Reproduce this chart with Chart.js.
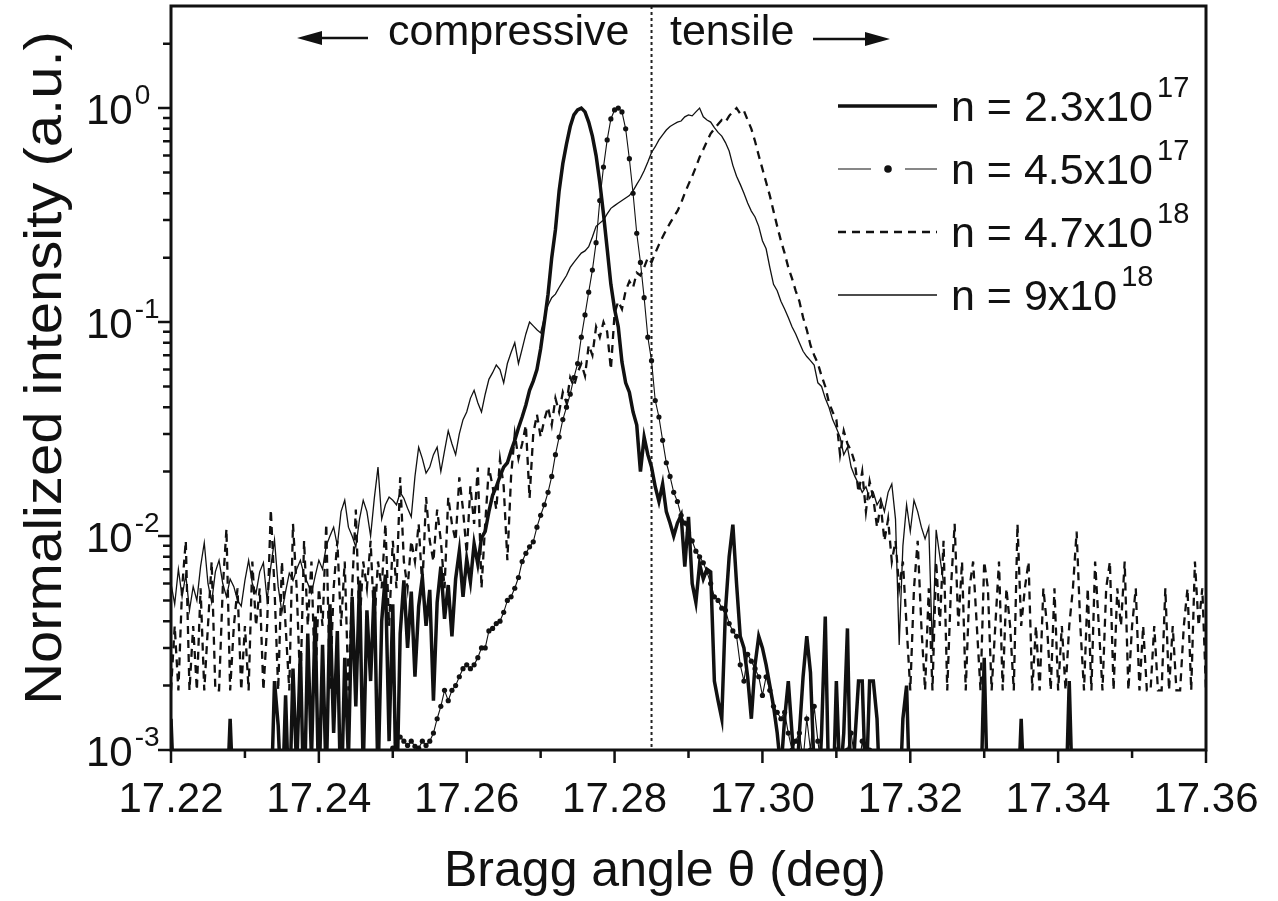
<!DOCTYPE html>
<html><head><meta charset="utf-8">
<script src="https://cdn.jsdelivr.net/npm/chart.js@4.4.1/dist/chart.umd.min.js"></script>
<style>html,body{margin:0;padding:0;background:#fff;}canvas{display:block;}</style>
</head><body>
<canvas id="c" width="1278" height="901"></canvas>
<script>
// scan grid (uniform step of the rocking curve)
const thetaStart = 17.22;
const thetaStep = 0.0005;

// n = 2.3x10^17 (thick solid), starts at grid index 0
const startA = 0;
const seriesA = [
0.0014,0.0005,0.0005,0.0005,0.0005,0.0005,0.0005,0.0005,0.0005,0.0005,
0.0005,0.0005,0.0005,0.0005,0.0005,0.0005,0.0014,0.0005,0.0005,0.0005,
0.0005,0.0005,0.0005,0.0005,0.0005,0.0005,0.0005,0.0005,0.0021,0.0013,
0.0005,0.0018,0.0005,0.0024,0.0008,0.0029,0.0005,0.0035,0.0009,0.0042,
0.0006,0.0031,0.0007,0.0048,0.0012,0.0036,0.0005,0.0027,0.0009,0.0052,
0.0016,0.0062,0.0008,0.0045,0.0021,0.0058,0.0007,0.0040,0.0066,0.0011,
0.0048,0.0005,0.0035,0.0062,0.0030,0.0055,0.0022,0.0047,0.0064,0.0038,
0.0056,0.0017,0.0049,0.0072,0.0041,0.0059,0.0034,0.0063,0.0085,0.0052,
0.0078,0.0061,0.0092,0.0074,0.0098,0.0105,0.013,0.0155,0.017,0.019,
0.021,0.022,0.025,0.028,0.032,0.036,0.041,0.048,0.053,0.060,
0.075,0.10,0.135,0.20,0.27,0.41,0.55,0.68,0.82,0.93,
0.98,1.0,0.96,0.86,0.74,0.60,0.45,0.32,0.22,0.15,
0.115,0.095,0.065,0.052,0.047,0.038,0.033,0.020,0.029,0.024,
0.021,0.017,0.0145,0.0175,0.013,0.0115,0.010,0.0115,0.0125,0.0072,
0.0123,0.0060,0.0049,0.0074,0.0063,0.0070,0.0068,0.0021,0.0017,0.0014,
0.0045,0.0080,0.0113,0.0060,0.0034,0.0030,0.0022,0.0014,0.0025,0.0034,
0.0030,0.0025,0.0020,0.0016,0.0012,0.0008,0.0014,0.0021,0.0012,0.0006,
0.0012,0.0022,0.0034,0.0023,0.0008,0.0005,0.0012,0.0042,0.0006,0.0005,
0.0021,0.0007,0.0012,0.0037,0.0005,0.0011,0.0021,0.0021,0.0006,0.0021,
0.0021,0.0014,0.0005,0.0005,0.0005,0.0005,0.0005,0.0005,0.0014,0.0020,
0.0005,0.0005,0.0005,0.0005,0.0005,0.0005,0.0005,0.0005,0.0005,0.0005,
0.0005,0.0005,0.0005,0.0005,0.0005,0.0005,0.0005,0.0005,0.0005,0.0005,
0.0027,0.0005,0.0005,0.0005,0.0005,0.0005,0.0005,0.0005,0.0005,0.0005,
0.0014,0.0005,0.0005,0.0005,0.0005,0.0005,0.0005,0.0005,0.0005,0.0005,
0.0005,0.0005,0.0005,0.0021,0.0005
];

// n = 4.5x10^17 (thin line with dots), starts at grid index 58
const startB = 58;
const seriesB = [
0.0008,0.0009,0.00102,0.00108,0.00115,0.0011,0.00105,0.0011,0.00104,0.00102,
0.0011,0.00105,0.0011,0.0012,0.0014,0.0016,0.0019,0.0017,0.0019,0.0020,
0.0022,0.0024,0.0025,0.0024,0.0025,0.0027,0.0030,0.0030,0.0036,0.0037,
0.0039,0.0040,0.0044,0.0050,0.0052,0.0057,0.0064,0.0076,0.0083,0.0089,
0.0094,0.011,0.0125,0.014,0.016,0.019,0.024,0.029,0.035,0.040,
0.046,0.055,0.064,0.085,0.108,0.138,0.175,0.235,0.37,0.53,
0.71,0.89,0.98,1.0,0.96,0.80,0.58,0.40,0.26,0.19,
0.13,0.085,0.066,0.043,0.036,0.028,0.022,0.019,0.016,0.0145,
0.0125,0.0115,0.0104,0.0095,0.0085,0.0080,0.0075,0.0068,0.0060,0.0052,
0.0050,0.0046,0.0045,0.0039,0.0036,0.0034,0.0025,0.0021,0.0028,0.0026,
0.0024,0.0022,0.0018,0.0022,0.0019,0.0016,0.0015,0.0014,0.0015,0.0012,
0.0010,0.0011,0.0012,0.0009,0.0014,0.0010,0.0016,0.0011,0.0008,0.0007,
0.0009,0.0008,0.0010,0.0006,0.0009,0.0010,0.0012,0.0009,0.0008,0.0011,
0.0009,0.0010,0.0006
];

// n = 4.7x10^18 (dashed), starts at grid index 0
const startC = 0;
const seriesC = [
0.0019,0.0038,0.0019,0.0057,0.0095,0.0019,0.0038,0.0019,0.0057,0.0019,
0.0038,0.0076,0.0019,0.0019,0.0057,0.0108,0.0019,0.0038,0.0057,0.0019,
0.0038,0.0019,0.0076,0.0038,0.0057,0.0019,0.0038,0.0133,0.0057,0.0019,
0.0076,0.0038,0.0019,0.0114,0.0057,0.0019,0.0095,0.0038,0.0076,0.0019,
0.0057,0.0038,0.0114,0.0019,0.0057,0.0095,0.0038,0.0076,0.0019,0.0057,
0.0133,0.0038,0.0076,0.0057,0.0095,0.0038,0.0076,0.0057,0.0114,0.0038,
0.0095,0.0057,0.0188,0.0076,0.0057,0.0095,0.0076,0.0114,0.0057,0.0152,
0.0095,0.0076,0.0133,0.0095,0.0057,0.0152,0.0114,0.0095,0.0188,0.0133,
0.0083,0.0171,0.0114,0.0209,0.0057,0.0114,0.0209,0.0171,0.0133,0.0228,
0.0171,0.0077,0.0190,0.0300,0.0230,0.0270,0.0330,0.0150,0.0300,0.0370,
0.0290,0.0350,0.0400,0.0330,0.0440,0.0380,0.0470,0.0420,0.0550,0.0500,
0.0580,0.0640,0.0560,0.0780,0.0700,0.0950,0.0850,0.1000,0.0900,0.0600,
0.1100,0.1250,0.1150,0.1400,0.1550,0.1450,0.1700,0.1650,0.1800,0.2000,
0.1900,0.2100,0.2300,0.2500,0.2700,0.2900,0.3100,0.3300,0.3600,0.4000,
0.4400,0.4800,0.5300,0.5900,0.6400,0.7000,0.7600,0.8000,0.8400,0.8800,
0.8600,0.9200,0.9600,1.0000,0.9400,0.9700,0.8800,0.8000,0.7000,0.6000,
0.5200,0.4500,0.3900,0.3300,0.2800,0.2400,0.2100,0.1800,0.1600,0.1400,
0.1250,0.1050,0.0920,0.0780,0.0700,0.0640,0.0560,0.0500,0.0420,0.0380,
0.0350,0.0240,0.0310,0.0270,0.0250,0.0220,0.0160,0.0200,0.0130,0.0180,
0.0150,0.0110,0.0140,0.0095,0.0120,0.0076,0.0095,0.0057,0.0076,0.0038,
0.0019,0.0057,0.0095,0.0038,0.0019,0.0057,0.0019,0.0076,0.0038,0.0095,
0.0019,0.0057,0.0114,0.0038,0.0076,0.0019,0.0057,0.0076,0.0038,0.0019,
0.0076,0.0057,0.0019,0.0038,0.0076,0.0019,0.0057,0.0038,0.0019,0.0114,
0.0038,0.0057,0.0076,0.0019,0.0038,0.0019,0.0057,0.0038,0.0019,0.0057,
0.0019,0.0038,0.0019,0.0038,0.0057,0.0105,0.0038,0.0019,0.0057,0.0019,
0.0076,0.0038,0.0019,0.0057,0.0076,0.0019,0.0057,0.0038,0.0076,0.0019,
0.0038,0.0057,0.0019,0.0038,0.0019,0.0019,0.0038,0.0019,0.0019,0.0057,
0.0019,0.0038,0.0019,0.0019,0.0038,0.0057,0.0019,0.0076,0.0038,0.0057,
0.0019
];

// n = 9x10^18 (thin solid), starts at grid index 0
const startD = 0;
const seriesD = [
0.0060,0.0048,0.0070,0.0052,0.0066,0.0045,0.0058,0.0050,0.0072,0.0093,
0.0060,0.0049,0.0068,0.0077,0.0060,0.0052,0.0063,0.0058,0.0050,0.0047,
0.0062,0.0077,0.0060,0.0054,0.0068,0.0075,0.0050,0.0072,0.0096,0.0058,
0.0044,0.0055,0.0067,0.0062,0.0070,0.0077,0.0066,0.0060,0.0054,0.0065,
0.0077,0.0070,0.0090,0.0100,0.0110,0.0090,0.0130,0.0147,0.0110,0.0100,
0.0089,0.0120,0.0147,0.0130,0.0100,0.0150,0.0210,0.0120,0.0140,0.0152,
0.0147,0.0140,0.0160,0.0150,0.0135,0.0123,0.0190,0.0260,0.0230,0.0197,
0.0210,0.0240,0.0260,0.0200,0.0250,0.0310,0.0270,0.0240,0.0300,0.0350,
0.0380,0.0440,0.0480,0.0420,0.0380,0.0460,0.0540,0.0580,0.0630,0.0600,
0.0520,0.0640,0.0720,0.0800,0.0640,0.0750,0.0880,0.1000,0.0960,0.0920,
0.0890,0.1050,0.1200,0.1300,0.1350,0.1450,0.1550,0.1650,0.1800,0.1900,
0.2000,0.2100,0.2150,0.2250,0.2500,0.2800,0.2900,0.3000,0.3200,0.3400,
0.3500,0.3600,0.3700,0.3800,0.3900,0.4100,0.4400,0.4700,0.5100,0.5600,
0.6200,0.6600,0.7100,0.7500,0.7900,0.8200,0.8400,0.8600,0.8700,0.9100,
0.9300,0.9200,0.9600,1.0000,0.9100,0.8800,0.8600,0.8100,0.7700,0.7400,
0.6900,0.6300,0.5400,0.4800,0.4400,0.4000,0.3600,0.3300,0.3100,0.2800,
0.2400,0.2200,0.1800,0.1500,0.1400,0.1250,0.1150,0.1050,0.0950,0.0880,
0.0800,0.0730,0.0690,0.0660,0.0630,0.0520,0.0500,0.0440,0.0400,0.0350,
0.0320,0.0290,0.0240,0.0260,0.0210,0.0190,0.0175,0.0160,0.0170,0.0150,
0.0160,0.0140,0.0150,0.0130,0.0160,0.0175,0.0120,0.0031,0.0090,0.0140,
0.0105,0.0147,0.0130,0.0110,0.0097,0.0110,0.0029,0.0107,0.0080,0.0060
];

// axes / labels
const xMin = 17.22, xMax = 17.36;
const yMin = 0.001, yMax = 3.0;
const xTickValues = [17.22, 17.24, 17.26, 17.28, 17.30, 17.32, 17.34, 17.36];
const xTickLabels = ['17.22', '17.24', '17.26', '17.28', '17.30', '17.32', '17.34', '17.36'];
const xMinorTicks = [17.23, 17.25, 17.27, 17.29, 17.31, 17.33, 17.35];
const yDecades = [1, 0.1, 0.01, 0.001];
const yDecadeExps = ['0', '-1', '-2', '-3'];
const xTitle = 'Bragg angle \u03b8 (deg)';
const yTitle = 'Normalized intensity (a.u.)';
const legendLabels = ['n = 2.3x10', 'n = 4.5x10', 'n = 4.7x10', 'n = 9x10'];
const legendExps = ['17', '17', '18', '18'];
const boundaryTheta = 17.285;
const leftNote = 'compressive';
const rightNote = 'tensile';

const FONT = '"Liberation Sans", Arial, Helvetica, sans-serif';
const INK = '#111';

function toPoints(start, vals) {
  return vals.map((v, k) => ({ x: +(thetaStart + (start + k) * thetaStep).toFixed(4), y: v }));
}

const decor = {
  id: 'decor',
  beforeDraw(c) {
    const ctx = c.ctx;
    ctx.save(); ctx.fillStyle = '#fff'; ctx.fillRect(0, 0, c.width, c.height); ctx.restore();
  },
  beforeDatasetsDraw(c) {
    const { ctx, chartArea: a, scales: { x } } = c;
    const px = x.getPixelForValue(boundaryTheta);
    ctx.save();
    ctx.strokeStyle = '#222'; ctx.lineWidth = 2; ctx.setLineDash([3, 3]);
    ctx.beginPath(); ctx.moveTo(px, a.top); ctx.lineTo(px, a.bottom); ctx.stroke();
    ctx.restore();
  },
  afterDraw(c) {
    const { ctx, chartArea: a, scales: { x, y } } = c;
    ctx.save();
    ctx.strokeStyle = INK; ctx.fillStyle = INK;
    // frame
    ctx.lineWidth = 3;
    ctx.strokeRect(a.left, a.top, a.right - a.left, a.bottom - a.top);
    // x ticks
    ctx.lineWidth = 2.5;
    ctx.beginPath();
    xTickValues.forEach(v => { const p = x.getPixelForValue(v); ctx.moveTo(p, a.bottom); ctx.lineTo(p, a.bottom + 13); });
    xMinorTicks.forEach(v => { const p = x.getPixelForValue(v); ctx.moveTo(p, a.bottom); ctx.lineTo(p, a.bottom + 8); });
    // y ticks
    yDecades.forEach(d => {
      const p = y.getPixelForValue(d); ctx.moveTo(a.left, p); ctx.lineTo(a.left - 13, p);
      for (let m = 2; m <= 9; m++) {
        const v = m * d;
        if (v < yMax) { const q = y.getPixelForValue(v); ctx.moveTo(a.left, q); ctx.lineTo(a.left - 8, q); }
      }
    });
    ctx.stroke();
    // x tick labels
    ctx.font = '42px ' + FONT; ctx.textAlign = 'center'; ctx.textBaseline = 'alphabetic';
    xTickValues.forEach((v, i) => ctx.fillText(xTickLabels[i], x.getPixelForValue(v), a.bottom + 62));
    // y tick labels with superscripts
    yDecades.forEach((d, i) => {
      const p = y.getPixelForValue(d);
      ctx.font = '42px ' + FONT; ctx.textAlign = 'left';
      ctx.fillText('10', 86, p + 16);
      const w = ctx.measureText('10').width;
      ctx.font = '28px ' + FONT;
      ctx.fillText(yDecadeExps[i], 86 + w + 2, p - 4);
    });
    // axis titles
    ctx.font = '50px ' + FONT; ctx.textAlign = 'center';
    ctx.fillText(xTitle, 665, 886);
    ctx.save();
    ctx.translate(47, 368); ctx.scale(0.88, 1); ctx.rotate(-Math.PI / 2);
    ctx.font = '58px ' + FONT; ctx.textBaseline = 'middle';
    ctx.fillText(yTitle, 0, 0);
    ctx.restore();
    // annotations
    ctx.font = '43px ' + FONT; ctx.textAlign = 'left'; ctx.textBaseline = 'alphabetic';
    ctx.fillText(leftNote, 388, 45);
    ctx.fillText(rightNote, 670, 45);
    ctx.lineWidth = 2.5;
    ctx.beginPath(); ctx.moveTo(368, 38); ctx.lineTo(315, 38); ctx.stroke();
    ctx.beginPath(); ctx.moveTo(297, 38); ctx.lineTo(322, 31); ctx.lineTo(322, 45); ctx.closePath(); ctx.fill();
    ctx.beginPath(); ctx.moveTo(813, 39); ctx.lineTo(872, 39); ctx.stroke();
    ctx.beginPath(); ctx.moveTo(890, 39); ctx.lineTo(865, 32); ctx.lineTo(865, 46); ctx.closePath(); ctx.fill();
    // legend
    const rows = [106, 169, 232, 295];
    const ds = [c.data.datasets[3], c.data.datasets[2], c.data.datasets[1], c.data.datasets[0]];
    rows.forEach((ry, i) => {
      const d = ds[i];
      ctx.save();
      ctx.lineWidth = d.borderWidth; ctx.setLineDash(d.borderDash || []);
      if (i === 1) {
        ctx.beginPath(); ctx.moveTo(838, ry); ctx.lineTo(871, ry); ctx.moveTo(905, ry); ctx.lineTo(937, ry); ctx.stroke();
        ctx.beginPath(); ctx.arc(888, ry, 3.8, 0, Math.PI * 2); ctx.fill();
      } else {
        ctx.beginPath(); ctx.moveTo(838, ry); ctx.lineTo(937, ry); ctx.stroke();
      }
      ctx.restore();
      ctx.font = '43px ' + FONT; ctx.textAlign = 'left';
      ctx.fillText(legendLabels[i], 951, ry + 15);
      const w = ctx.measureText(legendLabels[i]).width;
      ctx.font = '29px ' + FONT;
      ctx.fillText(legendExps[i], 951 + w + 4, ry - 9);
    });
    ctx.restore();
  }
};

new Chart(document.getElementById('c'), {
  type: 'line',
  data: {
    datasets: [
      { label: legendLabels[3] + legendExps[3], data: toPoints(startD, seriesD), borderColor: INK, borderWidth: 1.3, pointRadius: 0, tension: 0 },
      { label: legendLabels[2] + legendExps[2], data: toPoints(startC, seriesC), borderColor: INK, borderWidth: 2.3, borderDash: [8, 6], pointRadius: 0, tension: 0 },
      { label: legendLabels[1] + legendExps[1], data: toPoints(startB, seriesB), borderColor: INK, borderWidth: 1.1, pointRadius: 2.6, pointBackgroundColor: INK, pointBorderWidth: 0, tension: 0 },
      { label: legendLabels[0] + legendExps[0], data: toPoints(startA, seriesA), borderColor: INK, borderWidth: 3.5, pointRadius: 0, tension: 0 }
    ]
  },
  options: {
    responsive: false, animation: false, devicePixelRatio: 1,
    layout: { padding: { left: 171, top: 6, right: 72, bottom: 151 } },
    scales: {
      x: { type: 'linear', min: xMin, max: xMax, display: false },
      y: { type: 'logarithmic', min: yMin, max: yMax, display: false }
    },
    plugins: { legend: { display: false }, tooltip: { enabled: false } },
    events: []
  },
  plugins: [decor]
});
</script>
</body></html>
